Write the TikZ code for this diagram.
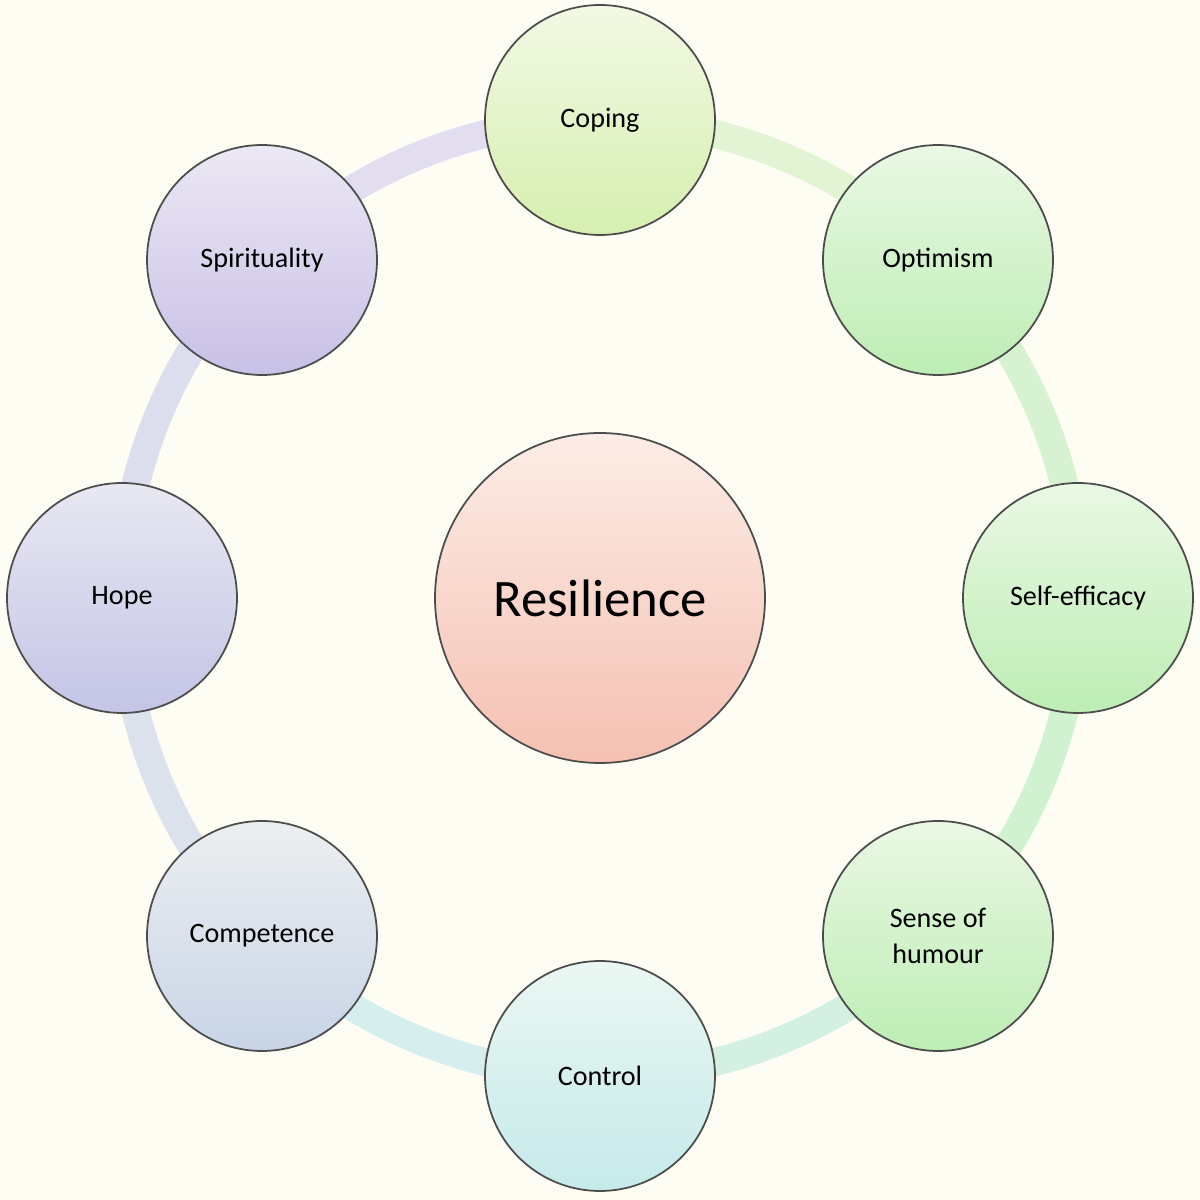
\documentclass[tikz,border=0pt]{standalone}
\usepackage{fontspec}
\setmainfont{Carlito}
\usetikzlibrary{calc}
\begin{document}
\begin{tikzpicture}
\definecolor{bg}{HTML}{FDFDF3}
\fill[bg] (0,0) rectangle (12,12);
\useasboundingbox (0,0) rectangle (12,12);
\coordinate (C) at (6,6.02);
\tikzset{outer/.style={circle,draw=black!70,line width=0.5pt,minimum size=2.3cm,inner sep=0pt},
ringseg/.style={line width=0.28cm}}
\foreach \a/\b/\c in {90/45/E2F4D4,45/0/D6F2D0,0/-45/D0F2D0,-45/-90/D4F0E2,-90/-135/D6EEEE,-135/-180/DCE2EC,180/135/DCDEEE,135/90/E2DEF0}{
  \definecolor{segc}{HTML}{\c}
  \draw[ringseg,segc] ($(C)+(\a:4.78)$) arc[start angle=\a,end angle=\b,radius=4.78];}
\definecolor{t1}{HTML}{F2F9E4}\definecolor{b1}{HTML}{D6EFB0}
\definecolor{t2}{HTML}{EAF8E4}\definecolor{b2}{HTML}{BDEDB4}
\definecolor{t3}{HTML}{EAF7F2}\definecolor{b3}{HTML}{C6EAEA}
\definecolor{t4}{HTML}{ECEFF0}\definecolor{b4}{HTML}{C8D4E6}
\definecolor{t5}{HTML}{E8E8F2}\definecolor{b5}{HTML}{C4C4E6}
\definecolor{t6}{HTML}{ECE8F4}\definecolor{b6}{HTML}{C8C0E6}
\definecolor{t7}{HTML}{FCEDE6}\definecolor{b7}{HTML}{F5C0B2}
\node[outer,top color=t1,bottom color=b1] (cop) at ($(C)+(90:4.78)$) {};
\node[outer,top color=t2,bottom color=b2] (opt) at ($(C)+(45:4.78)$) {};
\node[outer,top color=t2,bottom color=b2] (sel) at ($(C)+(0:4.78)$) {};
\node[outer,top color=t2,bottom color=b2] (hum) at ($(C)+(-45:4.78)$) {};
\node[outer,top color=t3,bottom color=b3] (con) at ($(C)+(-90:4.78)$) {};
\node[outer,top color=t4,bottom color=b4] (com) at ($(C)+(-135:4.78)$) {};
\node[outer,top color=t5,bottom color=b5] (hop) at ($(C)+(180:4.78)$) {};
\node[outer,top color=t6,bottom color=b6] (spi) at ($(C)+(135:4.78)$) {};
\node[circle,draw=black!70,line width=0.5pt,minimum size=3.3cm,top color=t7,bottom color=b7] (res) at (C) {};
\tikzset{lab/.style={font=\fontsize{8}{10.5}\selectfont,align=center}}
\node[lab] at (cop) {Coping};
\node[lab] at (opt) {Optimism};
\node[lab] at (sel) {Self-efficacy};
\node[lab] at (hum) {Sense of\\humour};
\node[lab] at (con) {Control};
\node[lab] at (com) {Competence};
\node[lab] at (hop) {Hope};
\node[lab] at (spi) {Spirituality};
\node[font=\fontsize{15}{17}\selectfont] at (res) {Resilience};
\end{tikzpicture}
\end{document}
